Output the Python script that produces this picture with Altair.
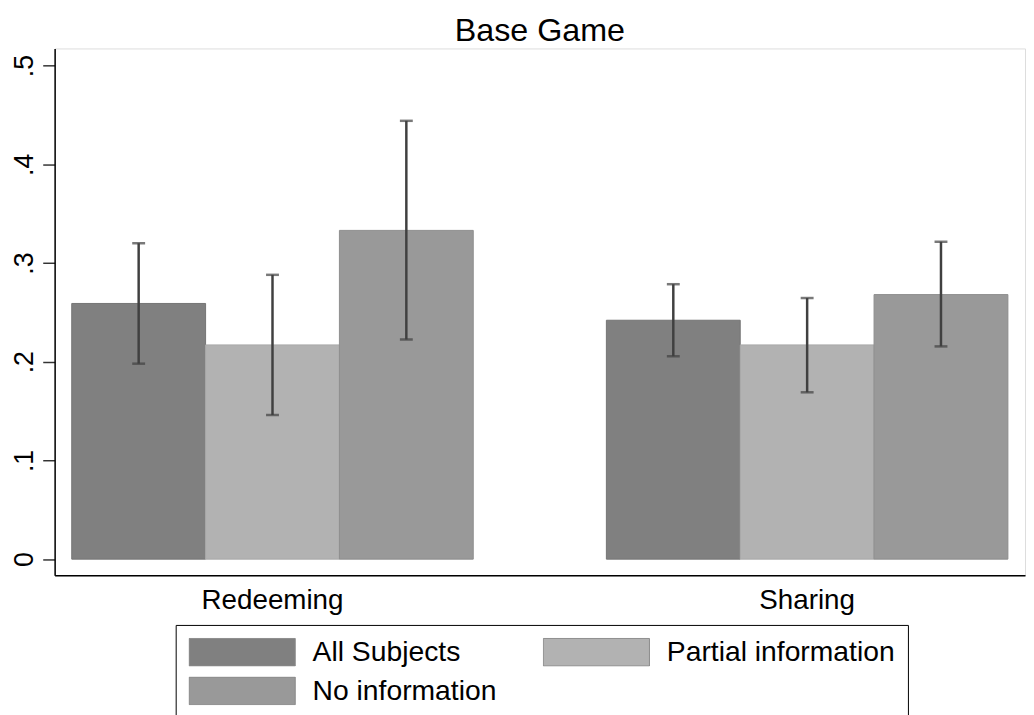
import altair as alt
import pandas as pd

groups = ["Redeeming", "Sharing"]
series = ["All Subjects", "Partial information", "No information"]
colors = ["#808080", "#b2b2b2", "#999999"]
outlines = ["#747474", "#a8a8a8", "#8e8e8e"]
# legend order (Vega fills legend columns top-to-bottom)
legend_order = ["All Subjects", "No information", "Partial information"]
legend_colors = ["#808080", "#999999", "#b2b2b2"]

mean_redeeming = [0.259, 0.217, 0.333]
lo_redeeming = [0.198, 0.146, 0.2225]
hi_redeeming = [0.320, 0.288, 0.444]

mean_sharing = [0.242, 0.217, 0.268]
lo_sharing = [0.2055, 0.169, 0.2155]
hi_sharing = [0.2785, 0.2645, 0.3215]

y_ticks = [0, 0.1, 0.2, 0.3, 0.4, 0.5]

rows = []
for g, means, los, his in [("Redeeming", mean_redeeming, lo_redeeming, hi_redeeming),
                           ("Sharing", mean_sharing, lo_sharing, hi_sharing)]:
    for s, m, lo, hi in zip(series, means, los, his):
        rows.append({"group": g, "series": s, "mean": m, "lo": lo, "hi": hi, "zero": 0})
df = pd.DataFrame(rows)

FONT = "Liberation Sans"

x_enc = alt.X("group:N", sort=groups,
              scale=alt.Scale(paddingInner=0.249, paddingOuter=0.032),
              axis=alt.Axis(title=None, ticks=False, labelAngle=0, labelFontSize=28,
                            labelFont=FONT, labelColor="black", labelPadding=11,
                            domainColor="black", domainWidth=1.5))
xo_enc = alt.XOffset("series:N", sort=series, scale=alt.Scale(paddingInner=0, paddingOuter=0))
y_scale = alt.Scale(domain=[-0.0164, 0.5173], nice=False, zero=False)
y_axis = alt.Axis(title=None, values=y_ticks, grid=False, tickSize=12, tickColor="#333333",
                  tickWidth=1.5, labelAngle=270, labelAlign="center", labelBaseline="alphabetic",
                  labelPadding=10, labelFontSize=27, labelFont=FONT, labelColor="black",
                  labelExpr="datum.value == 0 ? '0' : substring(format(datum.value, '.1f'), 1)",
                  domainColor="black", domainWidth=1.5)

base = alt.Chart(df)

bars = base.mark_bar(strokeWidth=1).encode(
    x=x_enc,
    xOffset=xo_enc,
    y=alt.Y("mean:Q", scale=y_scale, axis=y_axis),
    y2=alt.Y2("zero:Q"),
    color=alt.Color("series:N", sort=legend_order,
                    scale=alt.Scale(domain=legend_order, range=legend_colors),
                    legend=alt.Legend(orient="none", legendX=122, legendY=581, title=None,
                                      columns=2, columnPadding=46, rowPadding=10,
                                      symbolType="M-1,-0.26L1,-0.26L1,0.26L-1,0.26Z",
                                      symbolSize=11449, symbolStrokeWidth=1,
                                      symbolStrokeColor="#8a8a8a", symbolOpacity=1,
                                      labelFontSize=28.5, labelFont=FONT, labelColor="black",
                                      labelOffset=17, labelLimit=600, clipHeight=29,
                                      padding=13, strokeColor="black")),
    stroke=alt.Stroke("series:N", sort=series,
                      scale=alt.Scale(domain=series, range=outlines), legend=None),
)

err = base.mark_rule(color="#404040", strokeWidth=2.5).encode(
    x=x_enc, xOffset=xo_enc, y=alt.Y("lo:Q", scale=y_scale), y2="hi:Q")
cap_lo = base.mark_tick(color="#404040", thickness=2.5, size=13).encode(
    x=x_enc, xOffset=xo_enc, y=alt.Y("lo:Q", scale=y_scale))
cap_hi = base.mark_tick(color="#404040", thickness=2.5, size=13).encode(
    x=x_enc, xOffset=xo_enc, y=alt.Y("hi:Q", scale=y_scale))

chart = alt.layer(bars, err, cap_lo, cap_hi).properties(
    width=978, height=531,
    title=alt.TitleParams("Base Game", fontSize=32.5, font=FONT, fontWeight="normal",
                          color="black", anchor="middle", offset=1),
    autosize=alt.AutoSizeParams(type="none"),
    padding={"left": 47, "top": 38, "right": 1, "bottom": 140},
).configure_view(stroke="black", strokeWidth=1.5).configure(background="white")

chart.save("out.html", embed_options={"renderer": "svg", "actions": False})
